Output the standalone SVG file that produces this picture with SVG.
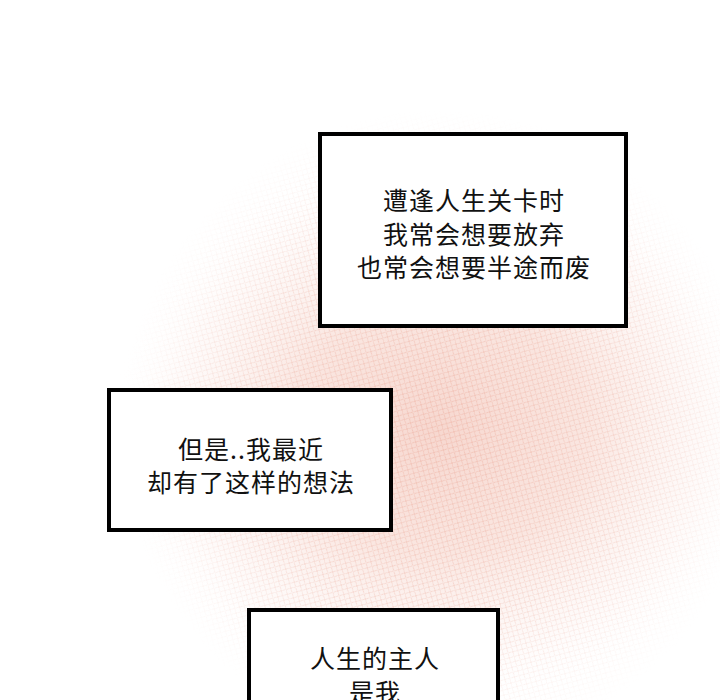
<svg xmlns="http://www.w3.org/2000/svg" width="720" height="700" viewBox="0 0 720 700">
<style>
.box{fill:#ffffff;stroke:#000000;stroke-width:4}
.t{font-family:"Noto Sans CJK SC","Noto Sans",sans-serif;font-size:25px;fill:#111111;text-anchor:middle;letter-spacing:1px}
</style>
<defs>
<radialGradient id="glow" cx="440" cy="430" r="330" gradientUnits="userSpaceOnUse" gradientTransform="translate(440 430) scale(1 0.85) rotate(-20) translate(-440 -430)">
<stop offset="0" stop-color="#f6d3ca" stop-opacity="0.9"/>
<stop offset="0.45" stop-color="#f8dcd4" stop-opacity="0.7"/>
<stop offset="0.8" stop-color="#fbece8" stop-opacity="0.25"/>
<stop offset="1" stop-color="#ffffff" stop-opacity="0"/>
</radialGradient>
<pattern id="mesh" width="7" height="7" patternUnits="userSpaceOnUse" patternTransform="rotate(30)">
<rect width="7" height="7" fill="none"/>
<path d="M0 0L7 7M7 0L0 7" stroke="#eeb4a6" stroke-width="1"/>
</pattern>
<radialGradient id="mg" cx="440" cy="430" r="320" gradientUnits="userSpaceOnUse">
<stop offset="0" stop-color="#fff" stop-opacity="0.6"/>
<stop offset="0.6" stop-color="#fff" stop-opacity="0.35"/>
<stop offset="1" stop-color="#fff" stop-opacity="0"/>
</radialGradient>
<mask id="m"><rect width="720" height="700" fill="url(#mg)"/></mask>
</defs>
<rect width="720" height="700" fill="#ffffff"/>
<g id="background">
<rect width="720" height="700" fill="url(#glow)"/>
<rect width="720" height="700" fill="url(#mesh)" mask="url(#m)"/>
</g>
<g id="box1">
<rect class="box" x="320" y="134" width="306" height="192"/>
<text class="t" x="474" y="210">遭逢人生关卡时</text>
<text class="t" x="474" y="244">我常会想要放弃</text>
<text class="t" x="474" y="277">也常会想要半途而废</text>
</g>
<g id="box2">
<rect class="box" x="109" y="390" width="282" height="140"/>
<text class="t" x="251" y="459">但是..我最近</text>
<text class="t" x="251" y="492">却有了这样的想法</text>
</g>
<g id="box3">
<rect class="box" x="249" y="610" width="249" height="100"/>
<text class="t" x="375" y="668">人生的主人</text>
<text class="t" x="375" y="702">是我</text>
</g>
</svg>
